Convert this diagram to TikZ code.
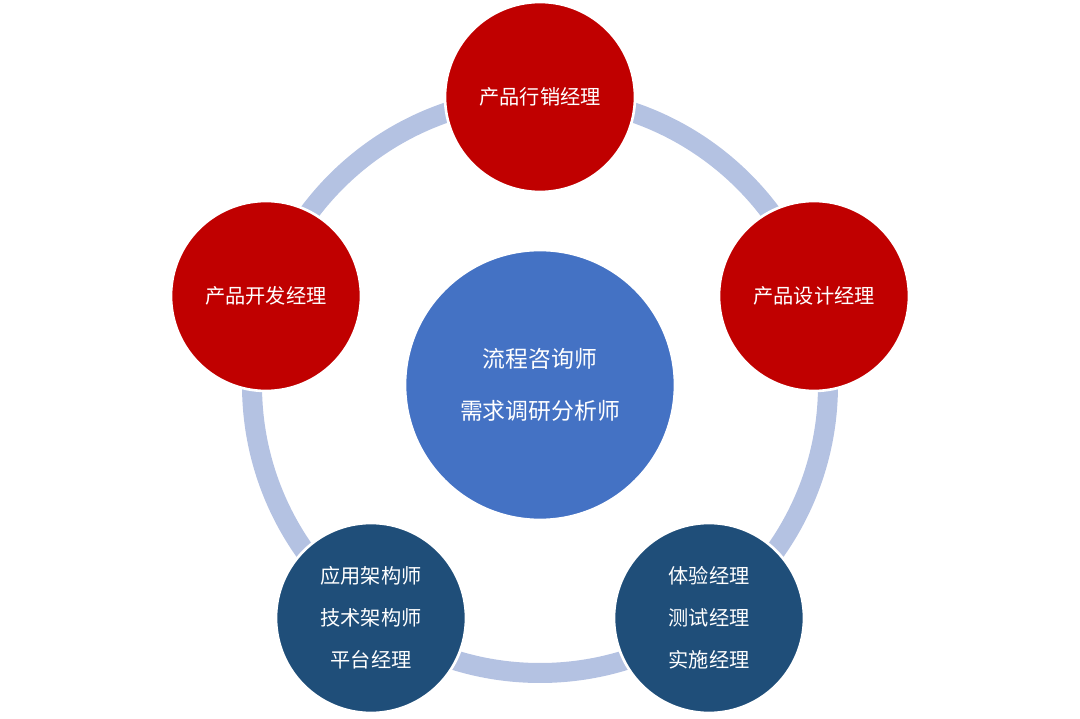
\documentclass[tikz,border=0pt]{standalone}
\usepackage{fontspec}
\newfontfamily\cjk{Noto Sans CJK SC}
\definecolor{ringblue}{RGB}{180,194,226}
\definecolor{rolered}{RGB}{192,0,0}
\definecolor{coreblue}{RGB}{68,114,196}
\definecolor{darkblue}{RGB}{31,78,121}
\tikzset{
  role/.style={circle,draw=white,line width=1.5pt,minimum size=3.8cm,text=white,font=\cjk\fontsize{11.5}{24}\selectfont,align=center},
}
\begin{document}
\begin{tikzpicture}[x=0.02cm,y=-0.02cm]
    \useasboundingbox (0,0) rectangle (1080,719);
    % ring
    \draw[ringblue,line width=0.4cm] (540,385) circle (288);
    \node[role,fill=coreblue,minimum size=5.4cm,font=\cjk\fontsize{13}{30}\selectfont] (core) at (540,385) {流程咨询师\\需求调研分析师};
    \node[role,fill=rolered] (mkt) at (540,97) {产品行销经理};
    \node[role,fill=rolered] (des) at (814,296) {产品设计经理};
    \node[role,fill=rolered] (dev) at (266,296) {产品开发经理};
    \node[role,fill=darkblue] (arch) at (371,618) {应用架构师\\技术架构师\\平台经理};
    \node[role,fill=darkblue] (test) at (709,618) {体验经理\\测试经理\\实施经理};
\end{tikzpicture}
\end{document}
